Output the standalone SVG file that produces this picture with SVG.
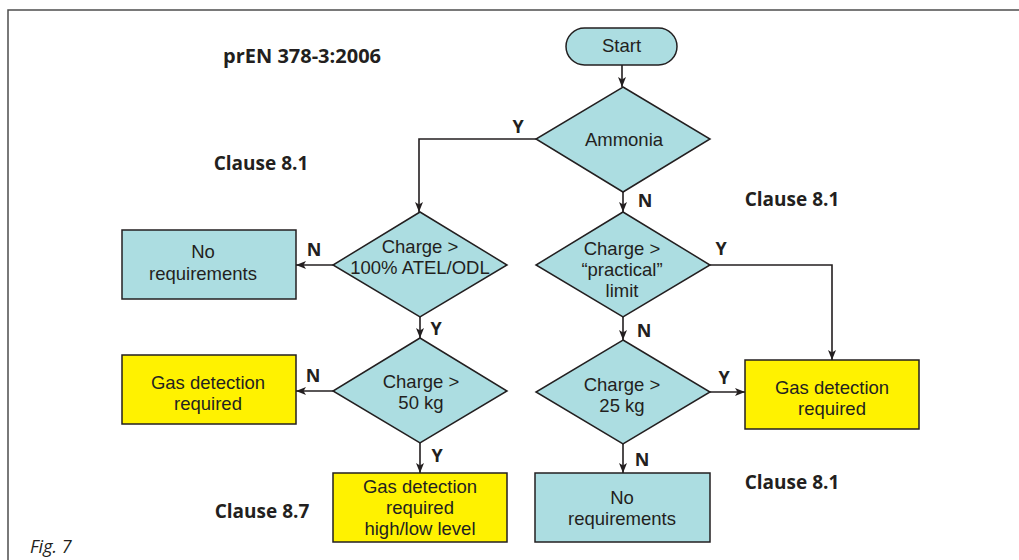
<svg xmlns="http://www.w3.org/2000/svg" width="1019" height="560" viewBox="0 0 1019 560">
<style>
.t{font-family:"Liberation Sans",Arial,sans-serif;font-size:18.5px;fill:#231f20;text-anchor:middle}
.b{font-family:"Open Sans","Liberation Sans",sans-serif;font-weight:bold;fill:#231f20;text-anchor:middle}
.lbl{font-size:18px}
.cl{font-size:19px}
.teal{fill:#acdde1;stroke:#231f20;stroke-width:1.5}
.yel{fill:#fff200;stroke:#231f20;stroke-width:1.5}
.c{fill:none;stroke:#231f20;stroke-width:1.6;marker-end:url(#arr)}
</style>
<defs>
<marker id="arr" markerUnits="userSpaceOnUse" markerWidth="10" markerHeight="8" refX="10" refY="4" orient="auto">
<path d="M0,0 L10,4 L0,8 L2.5,4 z" fill="#231f20"/>
</marker>
</defs>
<rect width="1019" height="560" fill="#fff"/>
<path d="M8,560 V10 H1019" fill="none" stroke="#4d4d4d" stroke-width="1.5"/>

<g id="texts">
<text class="b" x="302" y="63" font-size="20">prEN 378-3:2006</text>
<text class="b cl" x="261" y="170">Clause 8.1</text>
<text class="b cl" x="792" y="206">Clause 8.1</text>
<text class="b cl" x="792" y="489">Clause 8.1</text>
<text class="b cl" x="262" y="518">Clause 8.7</text>
<text x="30" y="553" font-family="'Open Sans','Liberation Sans',sans-serif" font-style="italic" font-size="18" fill="#231f20">Fig. 7</text>
</g>

<g id="connectors">
<path class="c" d="M622,65 V87"/>
<path class="c" d="M536,139 H419 V212"/>
<path class="c" d="M623,192 V212"/>
<path class="c" d="M333,265 H296"/>
<path class="c" d="M420,317 V338"/>
<path class="c" d="M333,391 H296"/>
<path class="c" d="M420,443 V473"/>
<path class="c" d="M710,265 H832 V360"/>
<path class="c" d="M623,317 V340"/>
<path class="c" d="M710,392 H745"/>
<path class="c" d="M623,444 V473"/>
<g class="b lbl">
<text x="518" y="133">Y</text>
<text x="645" y="207">N</text>
<text x="721" y="255">Y</text>
<text x="314" y="256">N</text>
<text x="436" y="335">Y</text>
<text x="313" y="382">N</text>
<text x="437" y="462">Y</text>
<text x="644" y="337">N</text>
<text x="724" y="384">Y</text>
<text x="642" y="466">N</text>
</g>
</g>

<g id="start">
<rect class="teal" x="566" y="28" width="111" height="37" rx="18.5"/>
<text class="t" x="621.5" y="52">Start</text>
</g>
<g id="ammonia">
<polygon class="teal" points="623,87 710,139 623,192 536,139"/>
<text class="t" x="624" y="146">Ammonia</text>
</g>
<g id="charge-atel">
<polygon class="teal" points="420,212 507,265 420,317 333,265"/>
<text class="t" x="420" y="253">Charge &gt;</text>
<text class="t" x="420" y="274">100% ATEL/ODL</text>
</g>
<g id="no-req-left">
<rect class="teal" x="122" y="230" width="174" height="69"/>
<text class="t" x="203" y="258">No</text>
<text class="t" x="203" y="280">requirements</text>
</g>
<g id="charge-50">
<polygon class="teal" points="420,338 507,391 420,443 333,391"/>
<text class="t" x="421" y="388">Charge &gt;</text>
<text class="t" x="421" y="409">50 kg</text>
</g>
<g id="gas-left">
<rect class="yel" x="122" y="355" width="174" height="69"/>
<text class="t" x="208" y="389">Gas detection</text>
<text class="t" x="208" y="410">required</text>
</g>
<g id="gas-high-low">
<rect class="yel" x="333" y="473" width="174" height="69"/>
<text class="t" x="420" y="493">Gas detection</text>
<text class="t" x="420" y="514">required</text>
<text class="t" x="420" y="535">high/low level</text>
</g>
<g id="charge-practical">
<polygon class="teal" points="623,212 710,265 623,317 536,265"/>
<text class="t" x="622" y="255">Charge &gt;</text>
<text class="t" x="622" y="276">“practical”</text>
<text class="t" x="622" y="297">limit</text>
</g>
<g id="charge-25">
<polygon class="teal" points="623,340 710,392 623,444 536,392"/>
<text class="t" x="622" y="391">Charge &gt;</text>
<text class="t" x="622" y="412">25 kg</text>
</g>
<g id="gas-right">
<rect class="yel" x="745" y="360" width="174" height="69"/>
<text class="t" x="832" y="394">Gas detection</text>
<text class="t" x="832" y="415">required</text>
</g>
<g id="no-req-bottom">
<rect class="teal" x="535" y="473" width="175" height="69"/>
<text class="t" x="622" y="504">No</text>
<text class="t" x="622" y="525">requirements</text>
</g>
</svg>
